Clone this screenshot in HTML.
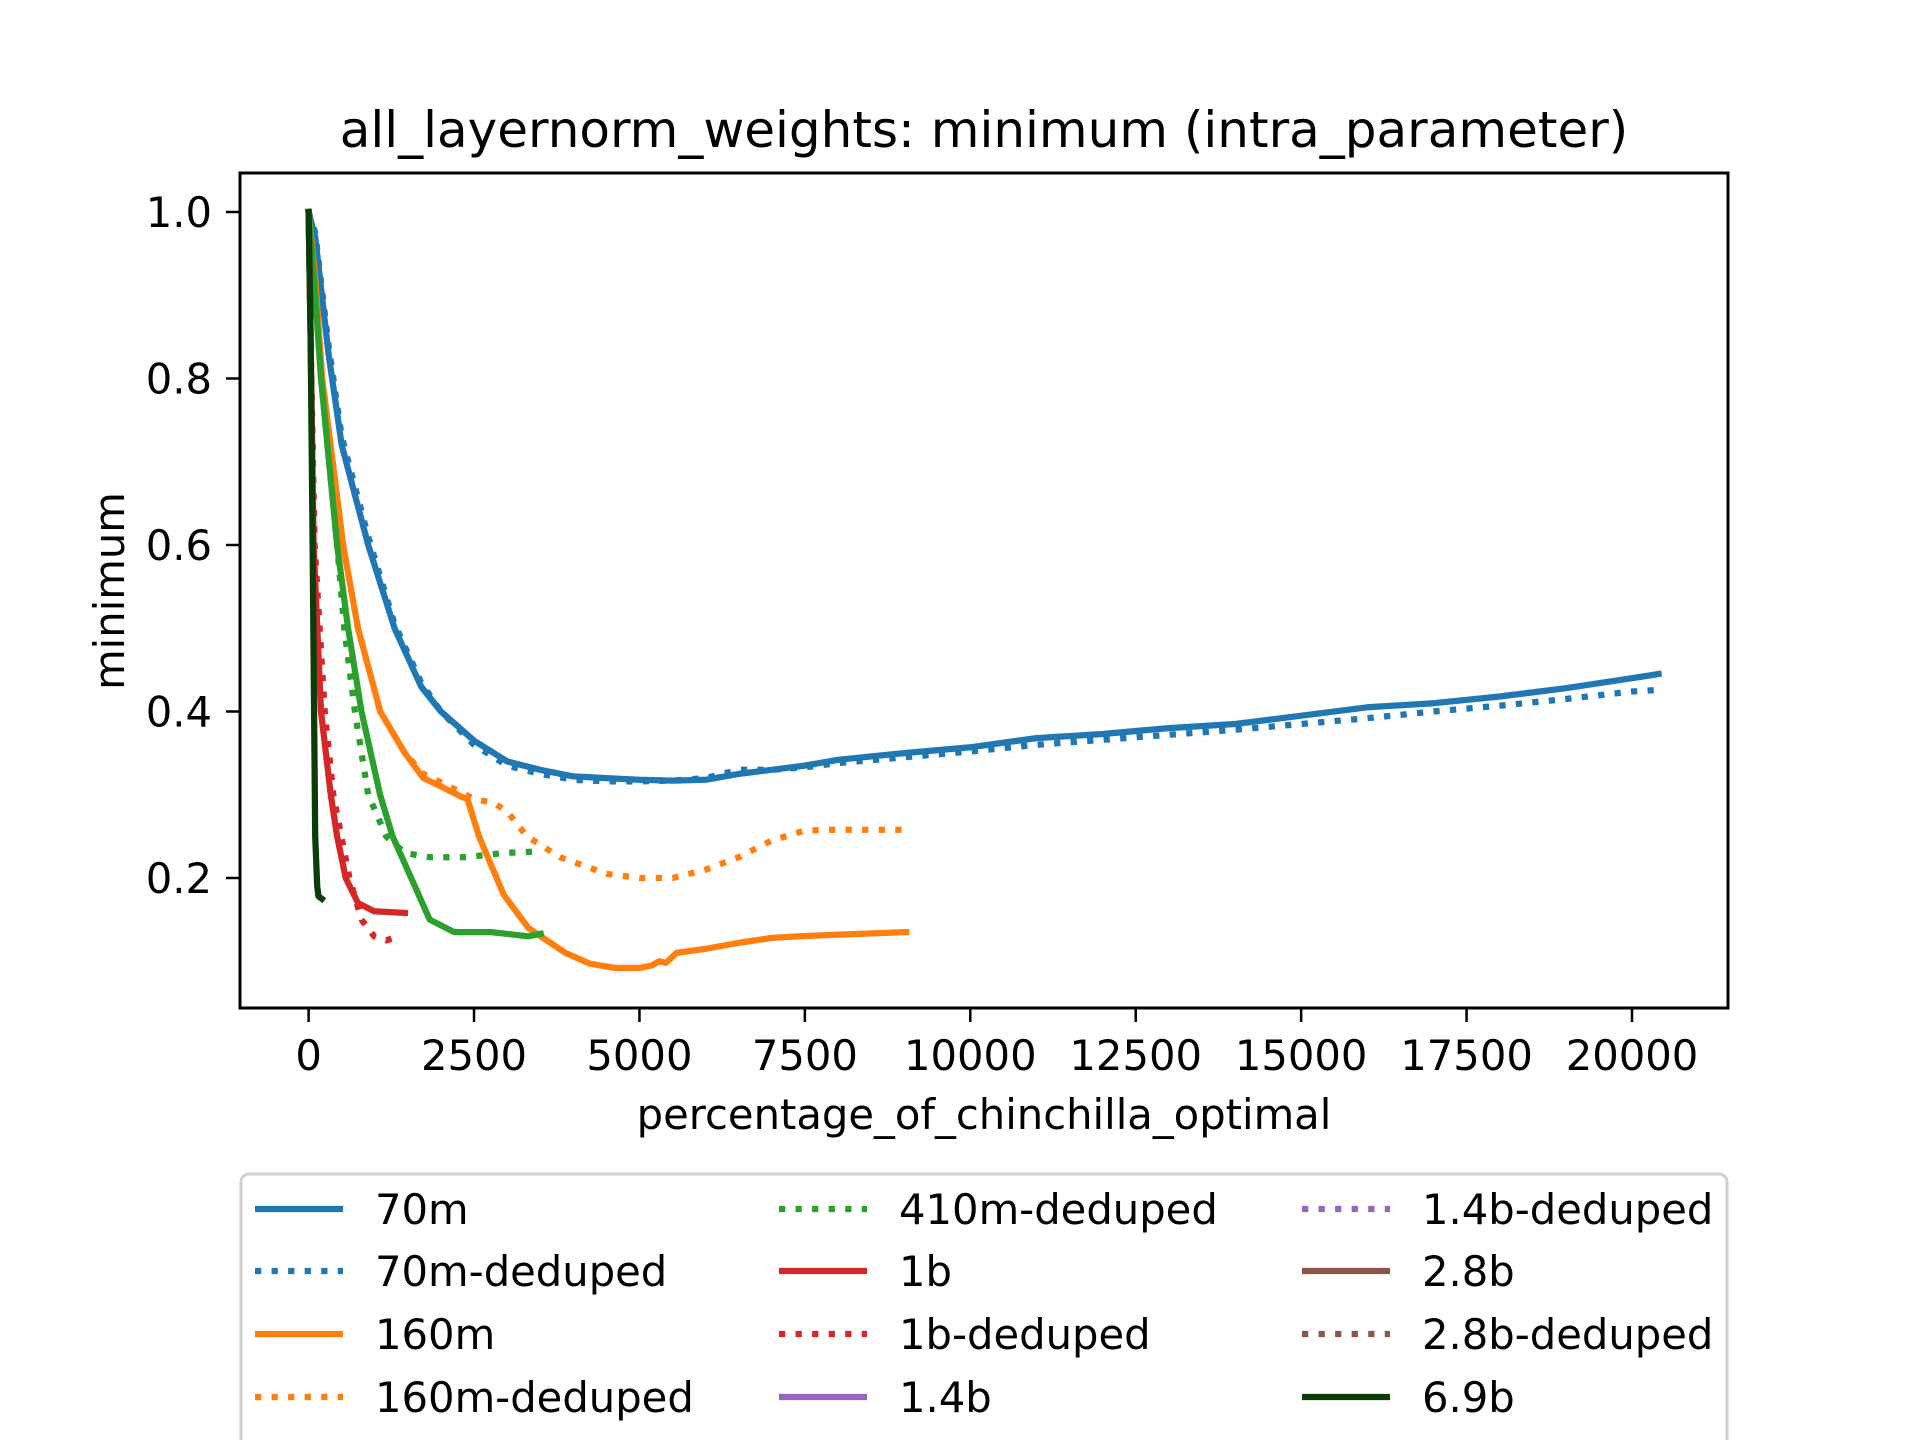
<!DOCTYPE html>
<html><head><meta charset="utf-8"><style>
html,body{margin:0;padding:0;background:#fff;width:1920px;height:1440px;overflow:hidden}
svg text{font-family:"DejaVu Sans","Liberation Sans",sans-serif;fill:#000}
</style></head><body>
<svg id="chart" width="1920" height="1440" viewBox="0 0 1920 1440" xmlns="http://www.w3.org/2000/svg">
<rect width="1920" height="1440" fill="#fff"/>
<text x="984" y="147" font-size="50" text-anchor="middle">all_layernorm_weights: minimum (intra_parameter)</text>
<g id="plot"></g>
<rect x="240" y="173" width="1488" height="835" fill="none" stroke="#000" stroke-width="3"/>
<g id="xticks"></g><g id="yticks"></g>
<text x="984" y="1129" font-size="41.7" text-anchor="middle">percentage_of_chinchilla_optimal</text>
<text transform="translate(124,591) rotate(-90)" font-size="41.7" text-anchor="middle">minimum</text>
<g id="legend">
<rect x="241" y="1174" width="1486" height="300" rx="8" fill="#fff" stroke="#d0d0d0" stroke-width="3"/>
</g>
</svg>
<script>
const xTicks=[0,2500,5000,7500,10000,12500,15000,17500,20000];
const yTicks=[0.2,0.4,0.6,0.8,1.0];
const yTickLabels=["0.2","0.4","0.6","0.8","1.0"];
const x70=[0,100,300,500,900,1300,1700,2000,2500,3000,3500,4000,4500,5000,5500,6000,6500,7000,7500,8000,9000,10000,11000,12000,13000,14000,15000,16000,17000,18000,19000,20000,20400];
const y70=[1.0,0.97,0.83,0.72,0.6,0.5,0.43,0.4,0.365,0.34,0.33,0.322,0.32,0.318,0.317,0.318,0.325,0.33,0.335,0.342,0.35,0.357,0.368,0.373,0.38,0.385,0.395,0.405,0.41,0.418,0.428,0.44,0.445];
const y70d=[1.0,0.975,0.84,0.73,0.61,0.505,0.435,0.4,0.36,0.335,0.325,0.318,0.316,0.316,0.317,0.32,0.33,0.33,0.333,0.338,0.345,0.352,0.36,0.366,0.372,0.378,0.385,0.392,0.4,0.407,0.415,0.424,0.426];
const x160=[0,100,205,522,746,1082,1455,1735,2000,2295,2400,2575,2948,3321,3881,4254,4627,5000,5187,5300,5400,5561,6000,6494,7000,7427,8000,9031];
const y160=[1.0,0.92,0.8,0.6,0.5,0.4,0.35,0.32,0.31,0.298,0.295,0.25,0.18,0.14,0.11,0.097,0.092,0.092,0.095,0.1,0.098,0.11,0.115,0.122,0.128,0.13,0.132,0.135];
const x160d=[0,100,205,522,746,1082,1455,1735,2000,2500,2800,3000,3300,3800,4500,5000,5500,6000,6500,7000,7500,8000,9000];
const y160d=[1.0,0.92,0.8,0.6,0.5,0.4,0.35,0.325,0.315,0.295,0.29,0.28,0.25,0.225,0.205,0.2,0.2,0.21,0.225,0.245,0.257,0.258,0.258];
const x410=[0,100,187,430,597,800,1080,1270,1550,1830,2200,2760,3320,3508];
const y410=[1.0,0.9,0.8,0.6,0.5,0.4,0.3,0.25,0.2,0.15,0.135,0.135,0.13,0.133];
const x410d=[0,100,187,430,540,700,900,1175,1455,1830,2390,2950,3500];
const y410d=[1.0,0.9,0.8,0.6,0.5,0.4,0.3,0.25,0.23,0.225,0.225,0.23,0.232];
const x1b=[0,30,75,187,336,430,560,746,990,1455];
const y1b=[1.0,0.85,0.6,0.4,0.3,0.25,0.2,0.17,0.16,0.158];
const x1bd=[0,30,90,243,373,616,800,990,1175,1360];
const y1bd=[1.0,0.85,0.6,0.4,0.3,0.2,0.15,0.13,0.125,0.13];
const x69=[0,30,60,100,130,150,200];
const y69=[1.0,0.85,0.6,0.25,0.19,0.178,0.175];

const X=v=>308.6+v*(1323.4/20000);
const Y=v=>212+(1-v)*(666/0.8);
const NS="http://www.w3.org/2000/svg";
function mk(tag,attrs,parent){const e=document.createElementNS(NS,tag);for(const k in attrs)e.setAttribute(k,attrs[k]);parent.appendChild(e);return e;}
const plot=document.getElementById('plot');
const DOT="6.25 10.3";
const series=[
 ["series-70m",x70,y70,"#1f77b4",null],
 ["series-70m-deduped",x70,y70d,"#1f77b4",DOT],
 ["series-160m",x160,y160,"#ff7f0e",null],
 ["series-160m-deduped",x160d,y160d,"#ff7f0e",DOT],
 ["series-410m-deduped",x410d,y410d,"#2ca02c",DOT],
 ["series-410m",x410,y410,"#2ca02c",null],
 ["series-1b",x1b,y1b,"#d62728",null],
 ["series-1b-deduped",x1bd,y1bd,"#d62728",DOT],
 ["series-6.9b",x69,y69,"#0b3d0b",null]
];
series.forEach(s=>{
 const d=s[1].map((v,i)=>(i?"L":"M")+X(v).toFixed(1)+","+Y(s[2][i]).toFixed(1)).join("");
 const p=mk('path',{d:d,fill:"none",stroke:s[3],"stroke-width":6.25,"stroke-linejoin":"round","stroke-linecap":s[4]?"butt":"square"},plot);
 if(s[4])p.setAttribute('stroke-dasharray',s[4]);
 
 
});
const xt=document.getElementById('xticks');
xTicks.forEach(v=>{
 const l=mk('line',{x1:X(v),x2:X(v),y1:1008,y2:1022,stroke:"#000","stroke-width":2.5},xt);
 
 
 const t=mk('text',{x:X(v),y:1070,"font-size":41.7,"text-anchor":"middle"},xt);
 t.textContent=String(v);
 
 
});
const yt=document.getElementById('yticks');
yTicks.forEach((v,i)=>{
 const l=mk('line',{x1:226,x2:240,y1:Y(v),y2:Y(v),stroke:"#000","stroke-width":2.5},yt);
 
 
 const t=mk('text',{x:212,y:Y(v)+15,"font-size":41.7,"text-anchor":"end"},yt);
 t.textContent=yTickLabels[i];
 
 
});
const legendLabels=["70m","70m-deduped","160m","160m-deduped","410m-deduped","1b","1b-deduped","1.4b","1.4b-deduped","2.8b","2.8b-deduped","6.9b"];
const legendColors=["#1f77b4","#1f77b4","#ff7f0e","#ff7f0e","#2ca02c","#d62728","#d62728","#9467bd","#9467bd","#8c564b","#8c564b","#0b3d0b"];
const legendDotted=[0,1,0,1,1,0,1,0,1,0,1,0];
const lg=document.getElementById('legend');
const colX=[255,779,1302],rowY=[1209,1271,1334,1397];
legendLabels.forEach((lab,i)=>{
 const c=Math.floor(i/4),r=i%4;
 const g=mk('g',{},lg);
 
 
 const ln=mk('line',{x1:colX[c],x2:colX[c]+88,y1:rowY[r],y2:rowY[r],stroke:legendColors[i],"stroke-width":6.25},g);
 if(legendDotted[i])ln.setAttribute('stroke-dasharray',DOT);
 const t=mk('text',{x:colX[c]+120,y:rowY[r]+15,"font-size":41.7},g);
 t.textContent=lab;
});
</script>
</body></html>
